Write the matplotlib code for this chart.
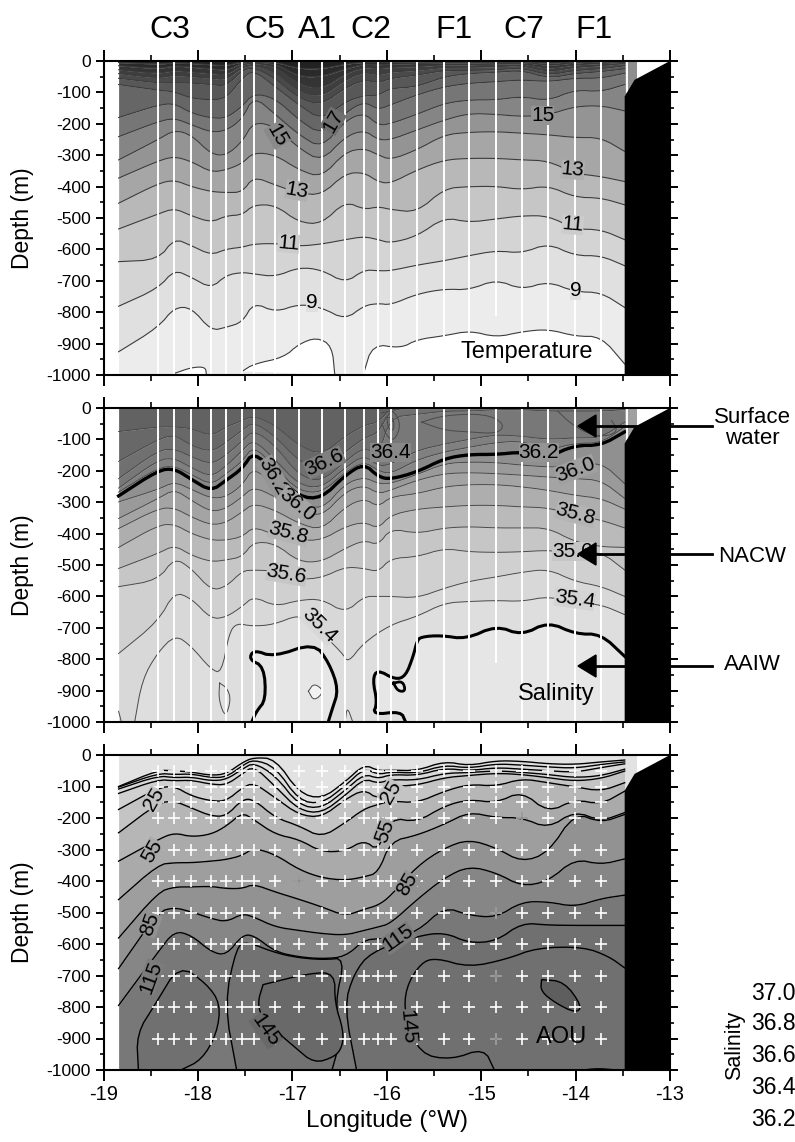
import numpy as np
import matplotlib
matplotlib.use("Agg")
import matplotlib.pyplot as plt

plt.rcParams['font.family'] = ['Liberation Sans', 'DejaVu Sans']
plt.rcParams['axes.unicode_minus'] = False

W, H = 795, 1142

# station longitudes (first and last are the section edges)
lon = [-18.84, -18.42, -18.25, -18.07, -17.86, -17.70, -17.53, -17.41, -17.18, -16.93, -16.69, -16.44,
       -16.24, -16.09, -15.96, -15.68, -15.39, -15.13, -14.84, -14.57, -14.29, -14.01, -13.73, -13.48]
cast_depth = [1000] * 24
cast_depth[18] = 810

# isotherm depths (m), deep to shallow, 9 to 23 degrees
t09 = [926,848,785,785,859,848,832,769,800,774,785,824,779,772,777,742,726,729,696,728,702,735,737,785]
t10 = [781,724,665,689,724,682,673,678,687,657,665,707,665,668,668,650,636,620,604,612,581,620,620,652]
t11 = [639,633,565,588,618,599,593,583,581,590,583,569,559,569,580,558,498,514,503,493,493,535,537,569]
t12 = [535,487,469,493,514,493,490,458,459,514,519,447,473,464,473,482,406,400,399,410,397,434,436,458]
t13 = [453,390,379,400,416,419,418,368,395,421,427,358,355,385,390,347,315,310,310,315,318,358,368,384]
t14 = [373,318,304,320,354,347,326,291,299,347,371,290,278,299,315,283,235,227,225,230,235,244,244,288]
t15 = [315,250,220,235,297,301,257,193,209,278,320,241,220,251,251,220,188,167,170,177,172,145,142,159]
t16 = [241,193,182,203,227,222,185,112,170,235,278,190,165,205,200,170,135,124,124,113,127,92,98,75]
t17 = [180,140,135,166,182,182,145,103,119,188,235,165,129,155,140,108,82,71,66,60,66,55,55,39]
t18 = [75,93,98,119,124,119,55,29,82,140,188,130,110,110,87,82,50,40,36,30,55,40,34,25]
t19 = [55,70,70,70,75,80,30,20,55,119,140,85,60,70,55,45,30,30,28,22,45,30,25,15]
t20 = [40,55,45,50,55,60,20,12,35,98,115,60,35,45,35,30,20,20,18,14,35,20,15,8]
t21 = [28,40,30,35,40,45,12,6,18,75,90,40,20,25,20,18,12,12,10,8,25,12,8,4]
t22 = [15,25,15,20,25,30,6,3,8,50,50,25,10,12,10,8,6,6,5,4,15,6,3,2]
t23 = [5,10,6,8,12,15,2,1,3,25,25,10,4,5,4,3,2,2,2,1,8,2,1,1]
temp_lines = [t09,t10,t11,t12,t13,t14,t15,t16,t17,t18,t19,t20,t21,t22,t23]
temp_grays = ['#ececec','#e0e0e0','#d4d4d4','#c6c6c6','#b8b8b8','#a6a6a6','#949494','#858585','#767676',
              '#666666','#585858','#4a4a4a','#3e3e3e','#343434','#2a2a2a','#222222']
# 8 degree isotherm pieces, white below them
t08_a = ([-18.24,-18.07,-17.92,-17.91], [994,976,974,1000])
t08_b = ([-17.53,-17.41,-17.09,-16.93,-16.74,-16.58,-16.55], [988,965,944,901,880,907,1000])
t08_c = ([-16.25,-16.15,-15.85,-15.68,-15.39,-15.12,-14.84,-14.57,-14.29,-14.0,-13.73,-13.48],
         [1000,901,915,887,875,859,880,862,854,877,877,965])

# isohalines (m), deep to shallow
s_v_lon = [-18.67,-18.59,-18.43,-18.24,-18.07,-17.86,-17.75,-17.67,-17.59,-17.43,-17.2,-16.93,-16.8,-16.47,
           -16.41,-16.25,-15.96,-15.68,-15.39,-15.12,-14.84,-14.57,-14.29,-14.0,-13.73,-13.48]
s_v = [1000,865,780,722,759,833,844,717,685,695,690,658,685,780,812,749,690,664,621,616,613,616,600,621,626,658]
s_u = [782,679,586,606,672,666,632,600,632,612,608,653,600,600,600,605,574,552,538,523,513,552,568,600]
s_6 = [569,548,477,511,581,569,519,516,519,546,541,506,511,522,479,474,447,458,460,458,453,463,458,516]
s_5 = [511,463,437,469,490,484,474,426,432,490,490,447,421,437,384,400,382,378,382,382,382,426,442,444]
s_4 = [444,373,370,400,421,421,410,378,405,421,421,378,363,384,341,322,315,310,310,315,318,341,357,382]
s_3 = [384,320,318,347,373,365,331,304,326,368,389,315,288,315,283,273,251,244,244,251,262,278,288,322]
s_2 = [352,288,259,294,331,320,283,251,283,326,347,267,246,273,262,230,209,206,209,214,220,225,230,288]
s_1 = [299,259,235,259,288,283,246,188,251,299,326,241,220,241,241,212,177,172,174,182,188,188,172,241]
s_thick = [280,198,193,227,265,230,193,138,209,283,288,214,177,219,227,204,161,148,148,140,156,119,119,76]
s_a = [268,190,185,212,245,210,170,120,190,265,270,205,170,200,210,165,140,125,110,105,135,112,112,60]
s_b = [255,165,160,190,220,185,135,100,165,245,255,190,150,185,180,135,115,100,85,90,100,95,95,45]
s_c = [225,135,130,155,180,150,105,70,120,215,235,170,125,150,30,20,10,10,5,5,10,10,10,5]
s_d = [170,100,85,120,140,110,70,45,90,170,200,140,95,80,3,2,2,2,2,2,2,2,2,2]
s_e = [75,60,60,65,90,60,40,25,55,120,150,90,55,45,1,1,1,1,1,1,1,1,1,1]
sal_lines = [s_u,s_6,s_5,s_4,s_3,s_2,s_1,s_thick,s_a,s_b,s_c,s_d,s_e]
sal_grays = ['#d8d8d8','#d0d0d0','#c6c6c6','#bababa','#aeaeae','#a4a4a4','#9a9a9a','#909090',
             '#888888','#808080','#787878','#707070','#686868','#626262']
sal_low_a = ([-17.43,-17.38,-17.28,-17.30,-17.46,-17.41,-17.20,-16.77,-16.61,-16.51,-16.58,-16.62],
             [1000,966,929,823,801,770,793,748,812,897,961,1000])
sal_low_b = ([-15.80,-15.85,-16.15,-16.10,-16.15,-16.10,-15.91,-15.80,-15.72,-15.68,-15.64,-15.43,-15.16,
              -14.84,-14.57,-14.29,-14.0,-13.73,-13.48],
             [1000,966,977,939,865,833,865,854,791,743,729,724,736,693,724,681,720,720,791])
sal_ring = ([-15.93,-15.83,-15.80,-15.88,-15.93], [876,870,902,902,876])
sal_thin = [([-15.63,-15.39,-14.96,-14.75,-14.82,-15.14,-15.39,-15.63], [45,23,18,50,82,76,71,45]),
            ([-16.05,-15.92,-15.85,-15.92,-16.0,-16.05], [15,8,55,105,90,50]),
            ([-16.0,-15.93,-15.92,-15.98,-16.0], [30,30,70,70,30]),
            ([-14.19,-14.05,-13.85,-13.65,-13.55,-13.62], [10,50,85,90,70,40]),
            ([-16.83,-16.77,-16.66,-16.77,-16.83], [902,876,902,934,902]),
            ([-17.77,-17.69,-17.65,-17.71,-17.78,-17.77], [876,892,929,987,929,876]),
            ([-16.44,-16.42,-16.36], [1000,950,1000]),
            ([-18.84,-18.81], [966,1000])]

# AOU isolines (m), deep to shallow
a_k6 = [795,625,559,572,625,636,572,572,625,641,647,641,588,583,583,562,482,509,516,466,466,482,456,445]
a_k5 = [678,498,484,498,519,530,504,514,546,557,567,572,557,546,535,459,390,353,374,417,401,330,348,330]
a_k4 = [581,435,419,419,417,424,424,410,435,458,482,511,490,477,448,353,295,268,295,340,311,183,215,189]
a_k3 = [459,348,342,342,337,332,319,295,316,364,390,398,387,374,274,255,220,181,199,199,233,178,210,183]
a_k2 = [337,268,247,260,252,226,183,205,252,268,308,305,270,305,199,213,162,141,152,115,183,141,157,115]
a_k1 = [247,152,146,168,194,194,141,141,199,225,262,215,171,157,146,152,115,93,99,75,88,101,115,88]
a_k0 = [173,104,99,130,146,146,104,88,136,190,198,141,109,141,99,96,72,65,58,62,72,83,75,51]
a_r4 = [122,78,82,80,93,95,60,35,100,175,185,128,75,90,78,80,58,56,50,55,62,72,66,45]
a_r3 = [108,66,72,70,82,78,45,24,65,160,170,112,60,75,62,65,42,50,40,45,50,55,40,28]
a_r2 = [102,58,62,60,72,70,34,14,38,145,155,98,42,62,54,58,32,42,28,32,38,42,30,22]
a_r1 = [100,48,50,54,65,60,24,8,12,120,140,85,30,50,48,50,20,34,18,20,28,30,22,16]
aou_lines = [a_k6,a_k5,a_k4,a_k3,a_k2,a_k1,a_k0,a_r4,a_r3,a_r2,a_r1]
aou_grays = ['#787878','#868686','#929292','#9e9e9e','#aaaaaa','#b6b6b6','#c4c4c4','#d0d0d0','#d8d8d8','#dcdcdc','#e0e0e0','#e2e2e2']
aou_lobes = [(([-18.63,-18.65,-18.45,-18.2,-17.91,-17.76,-17.8,-17.96,-18.18],
               [1000,885,790,666,725,790,885,968,1000]), '#707070'),
             (([-17.59,-17.72,-17.59,-17.48,-17.18,-16.93,-16.66,-16.44,-16.55,-16.47,-16.58],
               [1000,790,607,593,628,644,650,644,790,883,1000]), '#727272'),
             (([-17.31,-16.81,-16.55,-16.55,-16.46,-16.47,-16.55,-16.77,-16.98,-17.31,-17.37,-17.31],
               [729,692,692,788,873,926,958,979,926,841,788,729]), '#696969'),
             (([-14.36,-14.12,-13.93,-14.0,-14.21,-14.37,-14.36], [713,719,798,819,788,750,713]), '#5e5e5e'),
             (([-13.92,-13.76,-13.57], [1000,995,1000]), '#5e5e5e')]
# east of -16.3: outer isoline and the 145 isoline, each open at the section edges
aou_east_outer = ([-16.32,-16.45,-16.35,-16.17,-15.68,-15.39,-15.13,-14.84,-14.57,-14.29,-14.0,-13.73,-13.48],
                  [1000,798,695,625,575,563,597,591,533,540,541,541,541])
aou_east_145 = ([-14.86,-14.97,-15.32,-15.65,-15.81,-15.8,-15.64,-15.48,-15.13,-14.73,-14.41,-13.92,-13.65,-13.48],
                [1000,930,968,949,830,739,660,644,674,648,612,609,639,676])

plus_depths = [50, 100, 150, 200, 300, 400, 500, 600, 700, 800, 900]
gray_plus = [(-16.93, 400), (-14.84, 500), (-14.84, 700), (-14.84, 900), (-14.57, 200)]

station_names = ['C3', 'C5', 'A1', 'C2', 'F1', 'C7', 'F1']
station_px = [170, 265, 317, 371, 454, 524, 594]
x_ticks = [-19, -18, -17, -16, -15, -14, -13]
y_ticks = [0, -100, -200, -300, -400, -500, -600, -700, -800, -900, -1000]
sal_legend = ['37.0', '36.8', '36.6', '36.4', '36.2']
sal_legend_y = [993, 1024, 1056, 1087, 1119]

temp_labels = [('17', -16.57, 192, 60, '#707070'), ('15', -17.16, 236, -60, '#8a8a8a'), ('15', -14.35, 172, 0, '#949494'),
               ('13', -16.95, 413, -10, '#b0b0b0'), ('13', -14.03, 347, -5, '#b0b0b0'), ('11', -17.04, 581, -5, '#cccccc'),
               ('11', -14.03, 522, -5, '#cccccc'), ('9', -16.79, 770, 0, '#e0e0e0'), ('9', -14.0, 731, 0, '#e0e0e0')]
sal_labels = [('36.6', -16.66, 173, 25, '#808080'), ('36.4', -15.96, 143, 0, '#888888'), ('36.2', -14.39, 141, 0, '#949494'),
              ('36.2', -17.2, 218, -60, '#959595'), ('36.0', -16.95, 308, -40, '#a4a4a4'), ('36.0', -14.0, 196, 20, '#a0a0a0'),
              ('35.8', -17.04, 398, -15, '#b4b4b4'), ('35.8', -14.0, 337, -15, '#b4b4b4'), ('35.6', -17.06, 529, -10, '#c6c6c6'),
              ('35.6', -14.03, 456, 0, '#c6c6c6'), ('35.4', -16.71, 693, -45, '#d8d8d8'), ('35.4', -14.01, 608, -8, '#d4d4d4')]
aou_labels = [('25', -18.47, 142, 60, '#c4c4c4'), ('25', -15.96, 117, 60, '#c4c4c4'), ('55', -18.48, 305, 60, '#aaaaaa'),
              ('55', -16.02, 241, 70, '#aaaaaa'), ('85', -18.51, 538, 70, '#929292'), ('85', -15.78, 411, 60, '#929292'),
              ('115', -18.5, 705, 70, '#7c7c7c'), ('115', -15.88, 581, 35, '#7c7c7c'), ('145', -17.28, 873, -55, '#696969'),
              ('145', -15.78, 862, -85, '#707070')]


def neg(d):
    return -np.asarray(d, dtype=float)


def soft(v, passes=2):
    # corner cutting so the isolines are drawn round, ends stay put
    v = np.asarray(v, dtype=float)
    for _ in range(passes):
        q = 0.75 * v[:-1] + 0.25 * v[1:]
        r = 0.25 * v[:-1] + 0.75 * v[1:]
        mid = np.column_stack([q, r]).ravel()
        v = np.concatenate([v[:1], mid, v[-1:]])
    return v


def make_axes(top_px, bottom_px):
    ax = fig.add_axes([103.5 / W, 1 - bottom_px / H, (670 - 103.5) / W, (bottom_px - top_px) / H])
    ax.set_xlim(-19, -13)
    ax.set_ylim(-1000, 0)
    ax.set_xticks(x_ticks)
    ax.set_xticks(np.arange(-18.5, -13, 1), minor=True)
    ax.set_yticks(y_ticks)
    ax.set_yticks(np.arange(-950, 0, 100), minor=True)
    ax.set_yticklabels([str(v) for v in y_ticks], fontsize=12.5)
    ax.tick_params(which='major', direction='out', length=8, width=1.4, top=True, right=True, pad=3)
    ax.tick_params(which='minor', direction='out', length=4, width=1.2, top=True, right=True)
    ax.tick_params(axis='y', which='major', length=6)
    ax.tick_params(axis='y', which='minor', length=3)
    ax.set_ylabel('Depth (m)', fontsize=16.5, labelpad=9)
    for s in ax.spines.values():
        s.set_linewidth(1.5)
        s.set_zorder(20)
    return ax


def bands(ax, lines, grays, line_color, lw, thick=None):
    x = soft(lon)
    ax.fill_between(x, -1000, soft(neg(lines[0])), color=grays[0], lw=0, zorder=1)
    for i, d in enumerate(lines):
        upper = np.zeros(len(x)) if i == len(lines) - 1 else soft(neg(lines[i + 1]))
        ax.fill_between(x, soft(neg(d)), upper, color=grays[i + 1], lw=0, zorder=1)
    for d in lines:
        w = 2.4 if d is thick else lw
        c = 'black' if d is thick else line_color
        ax.plot(x, soft(neg(d)), color=c, lw=w, zorder=3)


def seabed(ax, cap_gray):
    ax.fill([-13.48, -13.35, -13.35, -13.48], [0, 0, -120, -120], color=cap_gray, lw=0, zorder=1)
    ax.fill([-13.48, -13.48, -13.375, -13, -13], [-1000, -113, -60, 0, -1000], color='black', lw=0, zorder=8)


def station_lines(ax):
    for x, d in zip(lon[1:-1], cast_depth[1:-1]):
        ax.plot([x, x], [0, -d], color='white', lw=1.4, zorder=5)
    ax.plot([-13.453, -13.453], [0, -100], color='white', lw=1.4, zorder=5)


def put_labels(ax, labels, fs):
    for txt, x, d, rot, bg in labels:
        ax.text(x, -d, txt, fontsize=fs, rotation=rot, ha='center', va='center', zorder=9,
                bbox=dict(facecolor=bg, edgecolor='none', pad=0))


fig = plt.figure(figsize=(W / 100, H / 100), dpi=100)

# temperature
ax1 = make_axes(61, 375)
bands(ax1, temp_lines, temp_grays, '#3c3c3c', 0.8)
for px, pd in (t08_a, t08_b, t08_c):
    sx, sd = soft(px), soft(neg(pd))
    ax1.fill(list(sx) + [px[-1]], list(sd) + [-1000], color='white', lw=0, zorder=2)
    ax1.plot(sx, sd, color='#3c3c3c', lw=0.8, zorder=3)
seabed(ax1, '#8e8e8e')
station_lines(ax1)
put_labels(ax1, temp_labels, 15)
ax1.text(-14.52, -926, 'Temperature', fontsize=17, ha='center', va='center', zorder=9)
ax1.set_xticklabels([])

# salinity
ax2 = make_axes(408, 722)
bands(ax2, sal_lines, sal_grays, '#4a4a4a', 0.7, thick=s_thick)
ax2.fill_between(soft(s_v_lon), -1000, soft(neg(s_v)), color='#dedede', lw=0, zorder=1.5)
ax2.plot(soft(s_v_lon), soft(neg(s_v)), color='#4a4a4a', lw=0.7, zorder=3)
for px, pd in (sal_low_a, sal_low_b):
    sx, sd = soft(px), soft(neg(pd))
    ax2.fill(list(sx) + [px[-1]], list(sd) + [-1000], color='#e6e6e6', lw=0, zorder=2)
    ax2.plot(sx, sd, color='black', lw=2.2, zorder=3)
ax2.plot(soft(sal_ring[0]), soft(neg(sal_ring[1])), color='black', lw=2.0, zorder=3)
for px, pd in sal_thin:
    ax2.plot(soft(px), soft(neg(pd)), color='#4a4a4a', lw=0.7, zorder=3)
ax2.fill(soft(sal_thin[4][0]), soft(neg(sal_thin[4][1])), color='#f2f2f2', lw=0, zorder=2.5)
seabed(ax2, '#a0a0a0')
station_lines(ax2)
put_labels(ax2, sal_labels, 15)
ax2.text(-14.2, -910, 'Salinity', fontsize=17, ha='center', va='center', zorder=9)
ax2.set_xticklabels([])

# AOU
ax3 = make_axes(755, 1070)
bands(ax3, aou_lines, aou_grays, 'black', 1.0)
ex, ed = soft(aou_east_outer[0]), soft(neg(aou_east_outer[1]))
ax3.fill(list(ex) + [-13.48], list(ed) + [-1000], color='#707070', lw=0, zorder=1.5)
ax3.plot(ex, ed, color='black', lw=1.0, zorder=3)
ax3.plot(soft(aou_east_145[0]), soft(neg(aou_east_145[1])), color='black', lw=1.0, zorder=3)
for (px, pd), c in aou_lobes:
    ax3.fill(soft(px), soft(neg(pd)), facecolor=c, edgecolor='black', lw=1.0, zorder=2)
seabed(ax3, '#e2e2e2')
for x in lon[1:-1]:
    ax3.plot([x] * len(plus_depths), neg(plus_depths), ls='none', marker='+', ms=8, mew=1.2, color='white', zorder=5)
for x, d in gray_plus:
    ax3.plot(x, -d, ls='none', marker='+', ms=8, mew=1.2, color='#8a8a8a', zorder=6)
put_labels(ax3, aou_labels, 15)
ax3.text(-14.15, -894, 'AOU', fontsize=17, ha='center', va='center', zorder=9)
ax3.set_xticklabels([str(v) for v in x_ticks], fontsize=14.5)
ax3.set_xlabel('Longitude (\u00b0W)', fontsize=17.5, labelpad=4)

for name, px in zip(station_names, station_px):
    fig.text(px / W, 1 - 30 / H, name, fontsize=23, ha='center', va='center')

# water mass annotations
for txt, px_y, arrow_y in (('Surface\nwater', 428, 426), ('NACW', 556, 554), ('AAIW', 665, 666)):
    fig.text(752 / W, 1 - px_y / H, txt, fontsize=16, ha='center', va='center', linespacing=1.05)
    fig.add_artist(plt.Line2D([590 / W, 712 / W], [1 - arrow_y / H] * 2, color='black', lw=2, zorder=30))
    fig.add_artist(plt.Polygon([[578 / W, 1 - arrow_y / H], [596 / W, 1 - (arrow_y - 11) / H],
                                [596 / W, 1 - (arrow_y + 11) / H]], color='black', zorder=30))

for txt, y in zip(sal_legend, sal_legend_y):
    fig.text(751 / W, 1 - y / H, txt, fontsize=16.5, ha='left', va='center')
fig.text(735 / W, 1 - 1045 / H, 'Salinity', fontsize=15.5, rotation=90, ha='center', va='center')

fig.savefig('out.png', dpi=100)
